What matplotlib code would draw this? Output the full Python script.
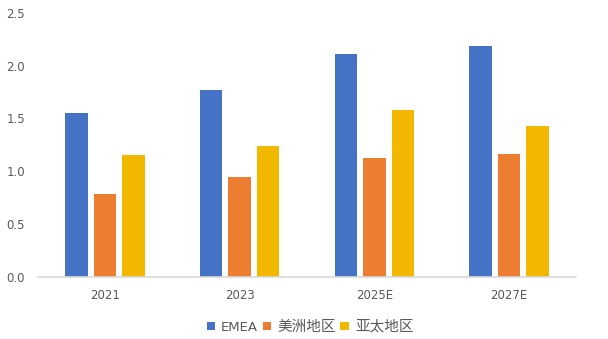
import matplotlib.pyplot as plt
import numpy as np

plt.rcParams['font.family'] = ['DejaVu Sans', 'Noto Sans CJK SC']

years = ['2021', '2023', '2025E', '2027E']
emea = [1.55, 1.77, 2.11, 2.19]
americas = [0.78, 0.94, 1.12, 1.16]
apac = [1.15, 1.24, 1.58, 1.43]
series_names = ['EMEA', '美洲地区', '亚太地区']
colors = ['#4472C4', '#ED7D31', '#F2B800']

f = plt.figure(figsize=(6.08, 3.39), dpi=100)
ax = f.add_axes([0.062, 0.184, 0.886, 0.778])

x = np.arange(len(years))
w = 0.167
step = 0.212
for i, (vals, name, c) in enumerate(zip([emea, americas, apac], series_names, colors)):
    ax.bar(x + (i - 1) * step, vals, width=w, color=c, label=name)

ax.set_xlim(-0.5, len(years) - 0.5)
ax.set_ylim(0, 2.5)
ax.set_yticks(np.arange(0, 2.51, 0.5))
ax.set_yticklabels(['%.1f' % v for v in np.arange(0, 2.51, 0.5)])
ax.set_xticks(x)
ax.set_xticklabels(years)
ax.tick_params(axis='both', length=0, labelsize=8.5, labelcolor='#595959')
ax.tick_params(axis='x', pad=9)
ax.tick_params(axis='y', pad=9)

for side in ['top', 'right', 'left']:
    ax.spines[side].set_visible(False)
ax.spines['bottom'].set_color('#D9D9D9')
ax.spines['bottom'].set_linewidth(1.2)

# legend below the axes, figure-centred
leg = f.legend(loc='center', bbox_to_anchor=(0.51, 0.038), ncol=3, frameon=False,
               fontsize=9.5, handlelength=0.65, handleheight=0.65, handletextpad=0.45,
               columnspacing=0.35, labelcolor='#595959')
for t in leg.get_texts()[1:]:
    t.set_fontsize(10.5)

f.savefig('out.png', dpi=100)
